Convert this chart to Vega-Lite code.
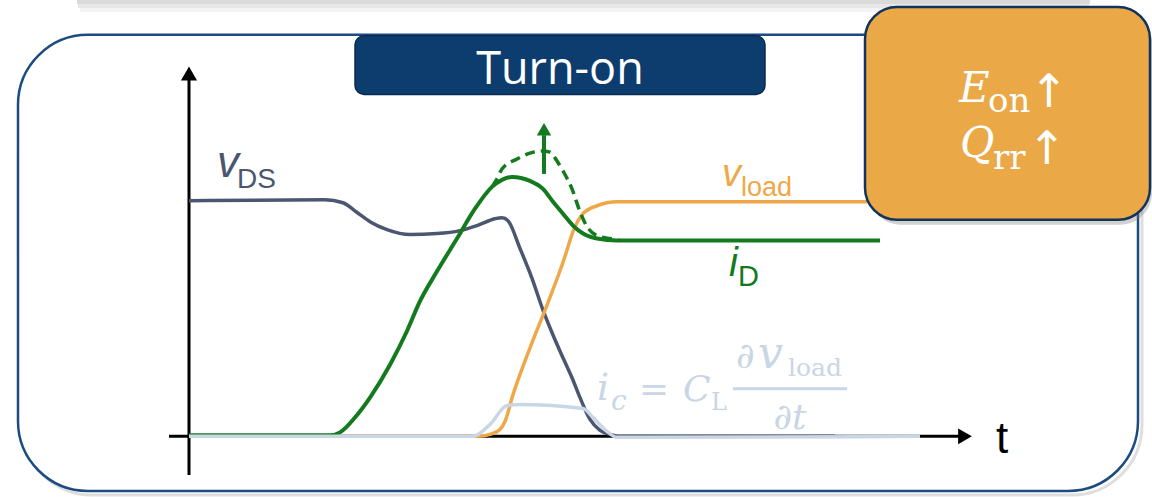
{
  "$schema": "https://vega.github.io/schema/vega-lite/v6.json",
  "width": 1152,
  "height": 497,
  "padding": 0,
  "autosize": {"type": "fit", "contains": "padding"},
  "background": "white",
  "config": {"view": {"stroke": null}},
  "encoding": {
    "x": {"field": "x", "type": "quantitative", "scale": {"domain": [0, 1152], "nice": false, "zero": false}, "axis": null},
    "y": {"field": "y", "type": "quantitative", "scale": {"domain": [0, 497], "nice": false, "zero": false, "reverse": true}, "axis": null}
  },
  "layer": [
    {
      "data": {"values": [{"x": 77, "x2": 1090, "y": 0, "y2": 4}]},
      "mark": {"type": "rect", "fill": "#DADADA"},
      "encoding": {"x2": {"field": "x2"}, "y2": {"field": "y2"}}
    },
    {
      "data": {"values": [{"x": 78, "x2": 1089, "y": 4, "y2": 8}]},
      "mark": {"type": "rect", "fill": "#E7E7E7"},
      "encoding": {"x2": {"field": "x2"}, "y2": {"field": "y2"}}
    },
    {
      "data": {"values": [{"x": 80, "x2": 1087, "y": 8, "y2": 12}]},
      "mark": {"type": "rect", "fill": "#F3F3F3"},
      "encoding": {"x2": {"field": "x2"}, "y2": {"field": "y2"}}
    },
    {
      "data": {"values": [{"x": 22, "x2": 1142, "y": 39, "y2": 498}]},
      "mark": {"type": "rect", "fill": null, "stroke": "#B5B5B5", "strokeWidth": 3, "cornerRadius": 70, "opacity": 0.45},
      "encoding": {"x2": {"field": "x2"}, "y2": {"field": "y2"}}
    },
    {
      "data": {"values": [{"x": 18, "x2": 1138, "y": 35, "y2": 494}]},
      "mark": {"type": "rect", "fill": "white", "stroke": "#1B4B80", "strokeWidth": 2.5, "cornerRadius": 70},
      "encoding": {"x2": {"field": "x2"}, "y2": {"field": "y2"}}
    },
    {
      "data": {"values": [{"x": 355, "x2": 765, "y": 36, "y2": 95}]},
      "mark": {"type": "rect", "fill": "#0D3C6E", "stroke": "#082B52", "strokeWidth": 1.5, "cornerRadius": 9},
      "encoding": {"x2": {"field": "x2"}, "y2": {"field": "y2"}}
    },
    {
      "data": {"values": [{"x": 560, "y": 85, "text": "Turn-on"}]},
      "mark": {"type": "text", "font": "Open Sans", "fontSize": 45, "color": "white", "align": "center", "baseline": "alphabetic"},
      "encoding": {"text": {"field": "text"}}
    },
    {
      "data": {"values": [{"x": 169, "x2": 960, "y": 439, "y2": 439}, {"x": 189, "x2": 189, "y": 478, "y2": 78}]},
      "mark": {"type": "rule", "color": "black", "strokeWidth": 3},
      "encoding": {"x2": {"field": "x2"}, "y2": {"field": "y2"}}
    },
    {
      "data": {"values": [{"x": 189, "y": 74}]},
      "mark": {"type": "point", "shape": "triangle-up", "filled": true, "color": "black", "size": 260, "opacity": 1},
      "encoding": {}
    },
    {
      "data": {"values": [{"x": 965, "y": 439}]},
      "mark": {"type": "point", "shape": "triangle-right", "filled": true, "color": "black", "size": 250, "opacity": 1},
      "encoding": {}
    },
    {
      "data": {"values": [
        {"x": 189, "y": 202}, {"x": 325, "y": 201}, {"x": 343, "y": 204}, {"x": 356, "y": 213}, {"x": 370, "y": 223},
        {"x": 387, "y": 231}, {"x": 410, "y": 236}, {"x": 437, "y": 235}, {"x": 460, "y": 232}, {"x": 477, "y": 227},
        {"x": 495, "y": 220}, {"x": 502, "y": 219}, {"x": 508, "y": 222}, {"x": 520, "y": 250}, {"x": 532, "y": 280},
        {"x": 543, "y": 312}, {"x": 553, "y": 337}, {"x": 563, "y": 360}, {"x": 572, "y": 380}, {"x": 580, "y": 400},
        {"x": 590, "y": 422}, {"x": 600, "y": 433}, {"x": 610, "y": 437}, {"x": 620, "y": 439}, {"x": 835, "y": 439}
      ]},
      "mark": {"type": "line", "color": "#4B5770", "strokeWidth": 3.5, "interpolate": "monotone"},
      "encoding": {}
    },
    {
      "data": {"values": [
        {"x": 189, "y": 439}, {"x": 478, "y": 439}, {"x": 490, "y": 437}, {"x": 500, "y": 432}, {"x": 505, "y": 424},
        {"x": 513, "y": 397}, {"x": 530, "y": 350}, {"x": 547, "y": 307}, {"x": 565, "y": 258}, {"x": 573, "y": 233},
        {"x": 583, "y": 215}, {"x": 597, "y": 207}, {"x": 617, "y": 203}, {"x": 867, "y": 203}
      ]},
      "mark": {"type": "line", "color": "#EFA849", "strokeWidth": 3.5, "interpolate": "monotone"},
      "encoding": {}
    },
    {
      "data": {"values": [
        {"x": 189, "y": 438}, {"x": 330, "y": 438}, {"x": 340, "y": 435}, {"x": 355, "y": 420}, {"x": 370, "y": 400},
        {"x": 390, "y": 367}, {"x": 407, "y": 333}, {"x": 420, "y": 303}, {"x": 437, "y": 273}, {"x": 457, "y": 240},
        {"x": 475, "y": 210}, {"x": 492, "y": 188}, {"x": 502, "y": 181}, {"x": 512, "y": 178}, {"x": 530, "y": 182},
        {"x": 543, "y": 190}, {"x": 553, "y": 203}, {"x": 563, "y": 215}, {"x": 573, "y": 227}, {"x": 583, "y": 235},
        {"x": 597, "y": 240}, {"x": 617, "y": 242}, {"x": 880, "y": 242}
      ]},
      "mark": {"type": "line", "color": "#137A1E", "strokeWidth": 4, "interpolate": "monotone"},
      "encoding": {}
    },
    {
      "data": {"values": [
        {"x": 492, "y": 188}, {"x": 497, "y": 180}, {"x": 502, "y": 170}, {"x": 517, "y": 160}, {"x": 530, "y": 154},
        {"x": 542, "y": 152}, {"x": 550, "y": 153}, {"x": 557, "y": 162}, {"x": 563, "y": 172}, {"x": 572, "y": 190},
        {"x": 580, "y": 213}, {"x": 587, "y": 228}, {"x": 597, "y": 237}, {"x": 610, "y": 240}, {"x": 620, "y": 242}
      ]},
      "mark": {"type": "line", "color": "#137A1E", "strokeWidth": 3.5, "strokeDash": [10, 6], "interpolate": "monotone"},
      "encoding": {}
    },
    {
      "data": {"values": [{"x": 544, "x2": 544, "y": 175, "y2": 136}]},
      "mark": {"type": "rule", "color": "#137A1E", "strokeWidth": 4},
      "encoding": {"x2": {"field": "x2"}, "y2": {"field": "y2"}}
    },
    {
      "data": {"values": [{"x": 544, "y": 130}]},
      "mark": {"type": "point", "shape": "triangle-up", "filled": true, "color": "#137A1E", "size": 210, "opacity": 1},
      "encoding": {}
    },
    {
      "data": {"values": [
        {"x": 189, "y": 439}, {"x": 473, "y": 439}, {"x": 490, "y": 427}, {"x": 507, "y": 408}, {"x": 520, "y": 407},
        {"x": 583, "y": 411}, {"x": 593, "y": 420}, {"x": 607, "y": 434}, {"x": 617, "y": 440}, {"x": 640, "y": 440},
        {"x": 920, "y": 439}
      ]},
      "mark": {"type": "line", "color": "#C8D6E6", "strokeWidth": 3.5, "interpolate": "monotone"},
      "encoding": {}
    },
    {
      "data": {"values": [{"x": 217, "y": 178, "text": "v"}]},
      "mark": {"type": "text", "font": "Liberation Sans", "fontStyle": "italic", "fontSize": 44, "color": "#4B5770", "align": "left", "baseline": "alphabetic"},
      "encoding": {"text": {"field": "text"}}
    },
    {
      "data": {"values": [{"x": 237, "y": 189, "text": "DS"}]},
      "mark": {"type": "text", "font": "Liberation Sans", "fontSize": 28, "color": "#4B5770", "align": "left", "baseline": "alphabetic"},
      "encoding": {"text": {"field": "text"}}
    },
    {
      "data": {"values": [{"x": 722, "y": 187, "text": "v"}]},
      "mark": {"type": "text", "font": "Liberation Sans", "fontStyle": "italic", "fontSize": 38, "color": "#EFA849", "align": "left", "baseline": "alphabetic"},
      "encoding": {"text": {"field": "text"}}
    },
    {
      "data": {"values": [{"x": 741, "y": 197, "text": "load"}]},
      "mark": {"type": "text", "font": "Liberation Sans", "fontSize": 27, "color": "#EFA849", "align": "left", "baseline": "alphabetic"},
      "encoding": {"text": {"field": "text"}}
    },
    {
      "data": {"values": [{"x": 729, "y": 278, "text": "i"}]},
      "mark": {"type": "text", "font": "Liberation Sans", "fontStyle": "italic", "fontSize": 40, "color": "#137A1E", "align": "left", "baseline": "alphabetic"},
      "encoding": {"text": {"field": "text"}}
    },
    {
      "data": {"values": [{"x": 738, "y": 288, "text": "D"}]},
      "mark": {"type": "text", "font": "Liberation Sans", "fontSize": 29, "color": "#137A1E", "align": "left", "baseline": "alphabetic"},
      "encoding": {"text": {"field": "text"}}
    },
    {
      "data": {"values": [{"x": 996, "y": 456, "text": "t"}]},
      "mark": {"type": "text", "font": "Liberation Sans", "fontSize": 44, "color": "black", "align": "left", "baseline": "alphabetic"},
      "encoding": {"text": {"field": "text"}}
    },
    {
      "data": {"values": [{"x": 597, "y": 402, "text": "i"}]},
      "mark": {"type": "text", "font": "DejaVu Serif", "fontStyle": "italic", "fontSize": 38, "color": "#C9D6E5", "align": "left", "baseline": "alphabetic"},
      "encoding": {"text": {"field": "text"}}
    },
    {
      "data": {"values": [{"x": 611, "y": 412, "text": "c"}]},
      "mark": {"type": "text", "font": "DejaVu Serif", "fontStyle": "italic", "fontSize": 28, "color": "#C9D6E5", "align": "left", "baseline": "alphabetic"},
      "encoding": {"text": {"field": "text"}}
    },
    {
      "data": {"values": [{"x": 654, "y": 403, "text": "="}]},
      "mark": {"type": "text", "font": "DejaVu Serif", "fontSize": 36, "color": "#C9D6E5", "align": "center", "baseline": "alphabetic"},
      "encoding": {"text": {"field": "text"}}
    },
    {
      "data": {"values": [{"x": 683, "y": 403, "text": "C"}]},
      "mark": {"type": "text", "font": "DejaVu Serif", "fontStyle": "italic", "fontSize": 36, "color": "#C9D6E5", "align": "left", "baseline": "alphabetic"},
      "encoding": {"text": {"field": "text"}}
    },
    {
      "data": {"values": [{"x": 711, "y": 412, "text": "L"}]},
      "mark": {"type": "text", "font": "DejaVu Serif", "fontSize": 24, "color": "#C9D6E5", "align": "left", "baseline": "alphabetic"},
      "encoding": {"text": {"field": "text"}}
    },
    {
      "data": {"values": [{"x": 736, "y": 370, "text": "∂"}]},
      "mark": {"type": "text", "font": "DejaVu Serif", "fontStyle": "italic", "fontSize": 36, "color": "#C9D6E5", "align": "left", "baseline": "alphabetic"},
      "encoding": {"text": {"field": "text"}}
    },
    {
      "data": {"values": [{"x": 758, "y": 370, "text": "v"}]},
      "mark": {"type": "text", "font": "DejaVu Serif", "fontStyle": "italic", "fontSize": 44, "color": "#C9D6E5", "align": "left", "baseline": "alphabetic"},
      "encoding": {"text": {"field": "text"}}
    },
    {
      "data": {"values": [{"x": 788, "y": 378, "text": "load"}]},
      "mark": {"type": "text", "font": "DejaVu Serif", "fontSize": 25, "color": "#C9D6E5", "align": "left", "baseline": "alphabetic"},
      "encoding": {"text": {"field": "text"}}
    },
    {
      "data": {"values": [{"x": 790, "y": 432, "text": "∂t"}]},
      "mark": {"type": "text", "font": "DejaVu Serif", "fontStyle": "italic", "fontSize": 36, "color": "#C9D6E5", "align": "center", "baseline": "alphabetic"},
      "encoding": {"text": {"field": "text"}}
    },
    {
      "data": {"values": [{"x": 733, "x2": 847, "y": 391, "y2": 391}]},
      "mark": {"type": "rule", "color": "#C9D6E5", "strokeWidth": 3},
      "encoding": {"x2": {"field": "x2"}, "y2": {"field": "y2"}}
    },
    {
      "data": {"values": [{"x": 869, "x2": 1152, "y": 11, "y2": 226}]},
      "mark": {"type": "rect", "fill": "#7A7A7A", "opacity": 0.35, "cornerRadius": 32},
      "encoding": {"x2": {"field": "x2"}, "y2": {"field": "y2"}}
    },
    {
      "data": {"values": [{"x": 865, "x2": 1150, "y": 7, "y2": 221}]},
      "mark": {"type": "rect", "fill": "#EAA847", "stroke": "#12345C", "strokeWidth": 2.5, "cornerRadius": 32},
      "encoding": {"x2": {"field": "x2"}, "y2": {"field": "y2"}}
    },
    {
      "data": {"values": [{"x": 959, "y": 103, "text": "E"}, {"x": 960, "y": 158, "text": "Q"}]},
      "mark": {"type": "text", "font": "DejaVu Serif", "fontStyle": "italic", "fontSize": 42, "color": "white", "align": "left", "baseline": "alphabetic"},
      "encoding": {"text": {"field": "text"}}
    },
    {
      "data": {"values": [{"x": 988, "y": 113, "text": "on"}, {"x": 993, "y": 170, "text": "rr"}]},
      "mark": {"type": "text", "font": "DejaVu Serif", "fontSize": 34, "color": "white", "align": "left", "baseline": "alphabetic"},
      "encoding": {"text": {"field": "text"}}
    },
    {
      "data": {"values": [{"x": 1049, "y": 108, "text": "↑"}, {"x": 1047, "y": 165, "text": "↑"}]},
      "mark": {"type": "text", "font": "DejaVu Sans", "fontSize": 46, "color": "white", "align": "center", "baseline": "alphabetic"},
      "encoding": {"text": {"field": "text"}}
    }
  ]
}
